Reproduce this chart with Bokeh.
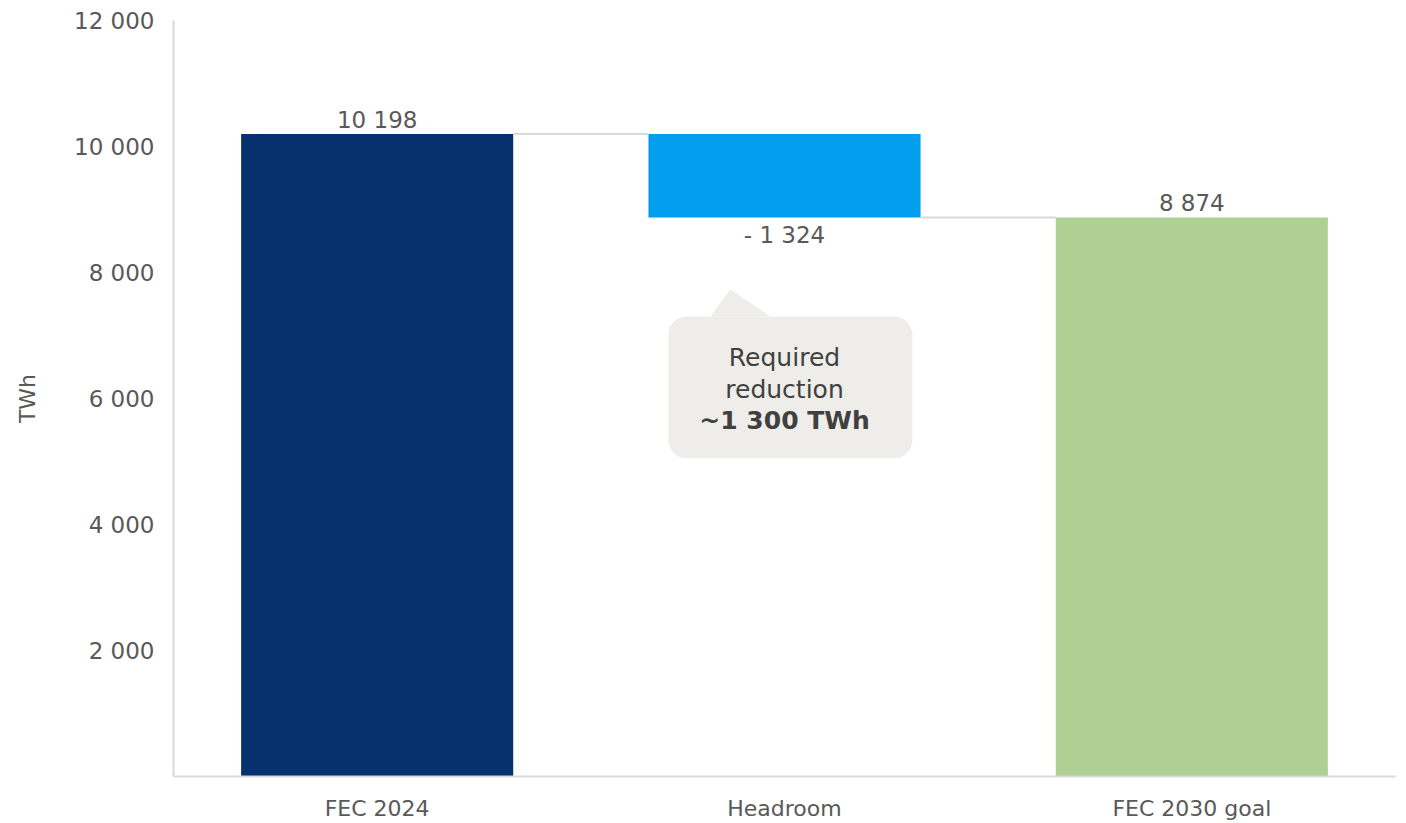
from bokeh.plotting import figure
from bokeh.models import Range1d, FixedTicker, ColumnDataSource
from bokeh.core.properties import value
from bokeh.embed import file_html
from bokeh.resources import INLINE

categories = ["FEC 2024", "Headroom", "FEC 2030 goal"]
values = [10198, -1324, 8874]
value_labels = ["10 198", "- 1 324", "8 874"]
y_ticks = [2000, 4000, 6000, 8000, 10000, 12000]
y_tick_labels = ["2 000", "4 000", "6 000", "8 000", "10 000", "12 000"]
colors = ["#06306e", "#039ded", "#aed193"]
callout_lines = ["Required", "reduction", "~1 300 TWh"]

FONT = "DejaVu Sans"
GREY = "#595959"

p = figure(width=1406, height=823, output_backend="svg", toolbar_location=None,
           x_range=Range1d(0, 3), y_range=Range1d(0, 12000),
           min_border_left=173, min_border_right=11, min_border_top=20, min_border_bottom=47)
p.outline_line_color = None
p.xgrid.visible = False
p.ygrid.visible = False
p.background_fill_color = "white"
p.border_fill_color = "white"

# waterfall geometry
start = values[0]
after = start + values[1]
bottoms = [0, after, 0]
tops = [start, start, values[2]]
xs = [i + 0.5 for i in range(len(categories))]
w = 0.668

src = ColumnDataSource(dict(x=xs, bottom=bottoms, top=tops, color=colors))
p.vbar(x="x", bottom="bottom", top="top", width=w, fill_color="color", line_color=None, source=src)

# connectors
p.segment(x0=[xs[0] + w / 2, xs[1] + w / 2], y0=[start, after],
          x1=[xs[1] - w / 2, xs[2] - w / 2], y1=[start, after],
          line_color="#d9d9d9", line_width=2)

# value labels
p.text(x=[xs[0], xs[2]], y=[tops[0], tops[2]], text=[value_labels[0], value_labels[2]],
       text_font=value(FONT), text_font_size="23px", text_color=GREY,
       text_align="center", text_baseline="bottom", y_offset=-1)
p.text(x=[xs[1]], y=[after], text=[value_labels[1]],
       text_font=value(FONT), text_font_size="23px", text_color=GREY,
       text_align="center", text_baseline="top", y_offset=5)

# callout
p.quad(left=[1.215], right=[1.814], top=[7300], bottom=[5050],
       fill_color="#eeede9", line_color=None, border_radius=18)
p.patch(x=[1.318, 1.367, 1.466], y=[7300, 7730, 7300], fill_color="#eeede9", line_color=None)
p.text(x=[1.5, 1.5], y=[6651, 6143], text=callout_lines[:2],
       text_font=value(FONT), text_font_size="25px", text_color="#404040",
       text_align="center", text_baseline="middle")
p.text(x=[1.5], y=[5651], text=callout_lines[2:],
       text_font=value(FONT), text_font_size="25px", text_font_style="bold", text_color="#404040",
       text_align="center", text_baseline="middle")

# axes
p.xaxis.ticker = FixedTicker(ticks=xs)
p.xaxis.major_label_overrides = {x: c for x, c in zip(xs, categories)}
p.yaxis.ticker = FixedTicker(ticks=y_ticks)
p.yaxis.major_label_overrides = {t: l for t, l in zip(y_ticks, y_tick_labels)}
for ax in (p.xaxis, p.yaxis):
    ax.axis_line_color = "#d9d9d9"
    ax.axis_line_width = 2
    ax.major_tick_line_color = None
    ax.minor_tick_line_color = None
    ax.major_label_text_font = FONT
    ax.major_label_text_color = GREY
p.xaxis.major_label_text_font_size = "22px"
p.yaxis.major_label_text_font_size = "23px"
p.xaxis.major_label_standoff = 13
p.yaxis.major_label_standoff = 13
p.yaxis.axis_label = "TWh"
p.yaxis.axis_label_text_font = FONT
p.yaxis.axis_label_text_font_style = "normal"
p.yaxis.axis_label_text_font_size = "22px"
p.yaxis.axis_label_text_color = GREY
p.yaxis.axis_label_standoff = 31

open("out.html", "w").write(file_html(p, INLINE))
